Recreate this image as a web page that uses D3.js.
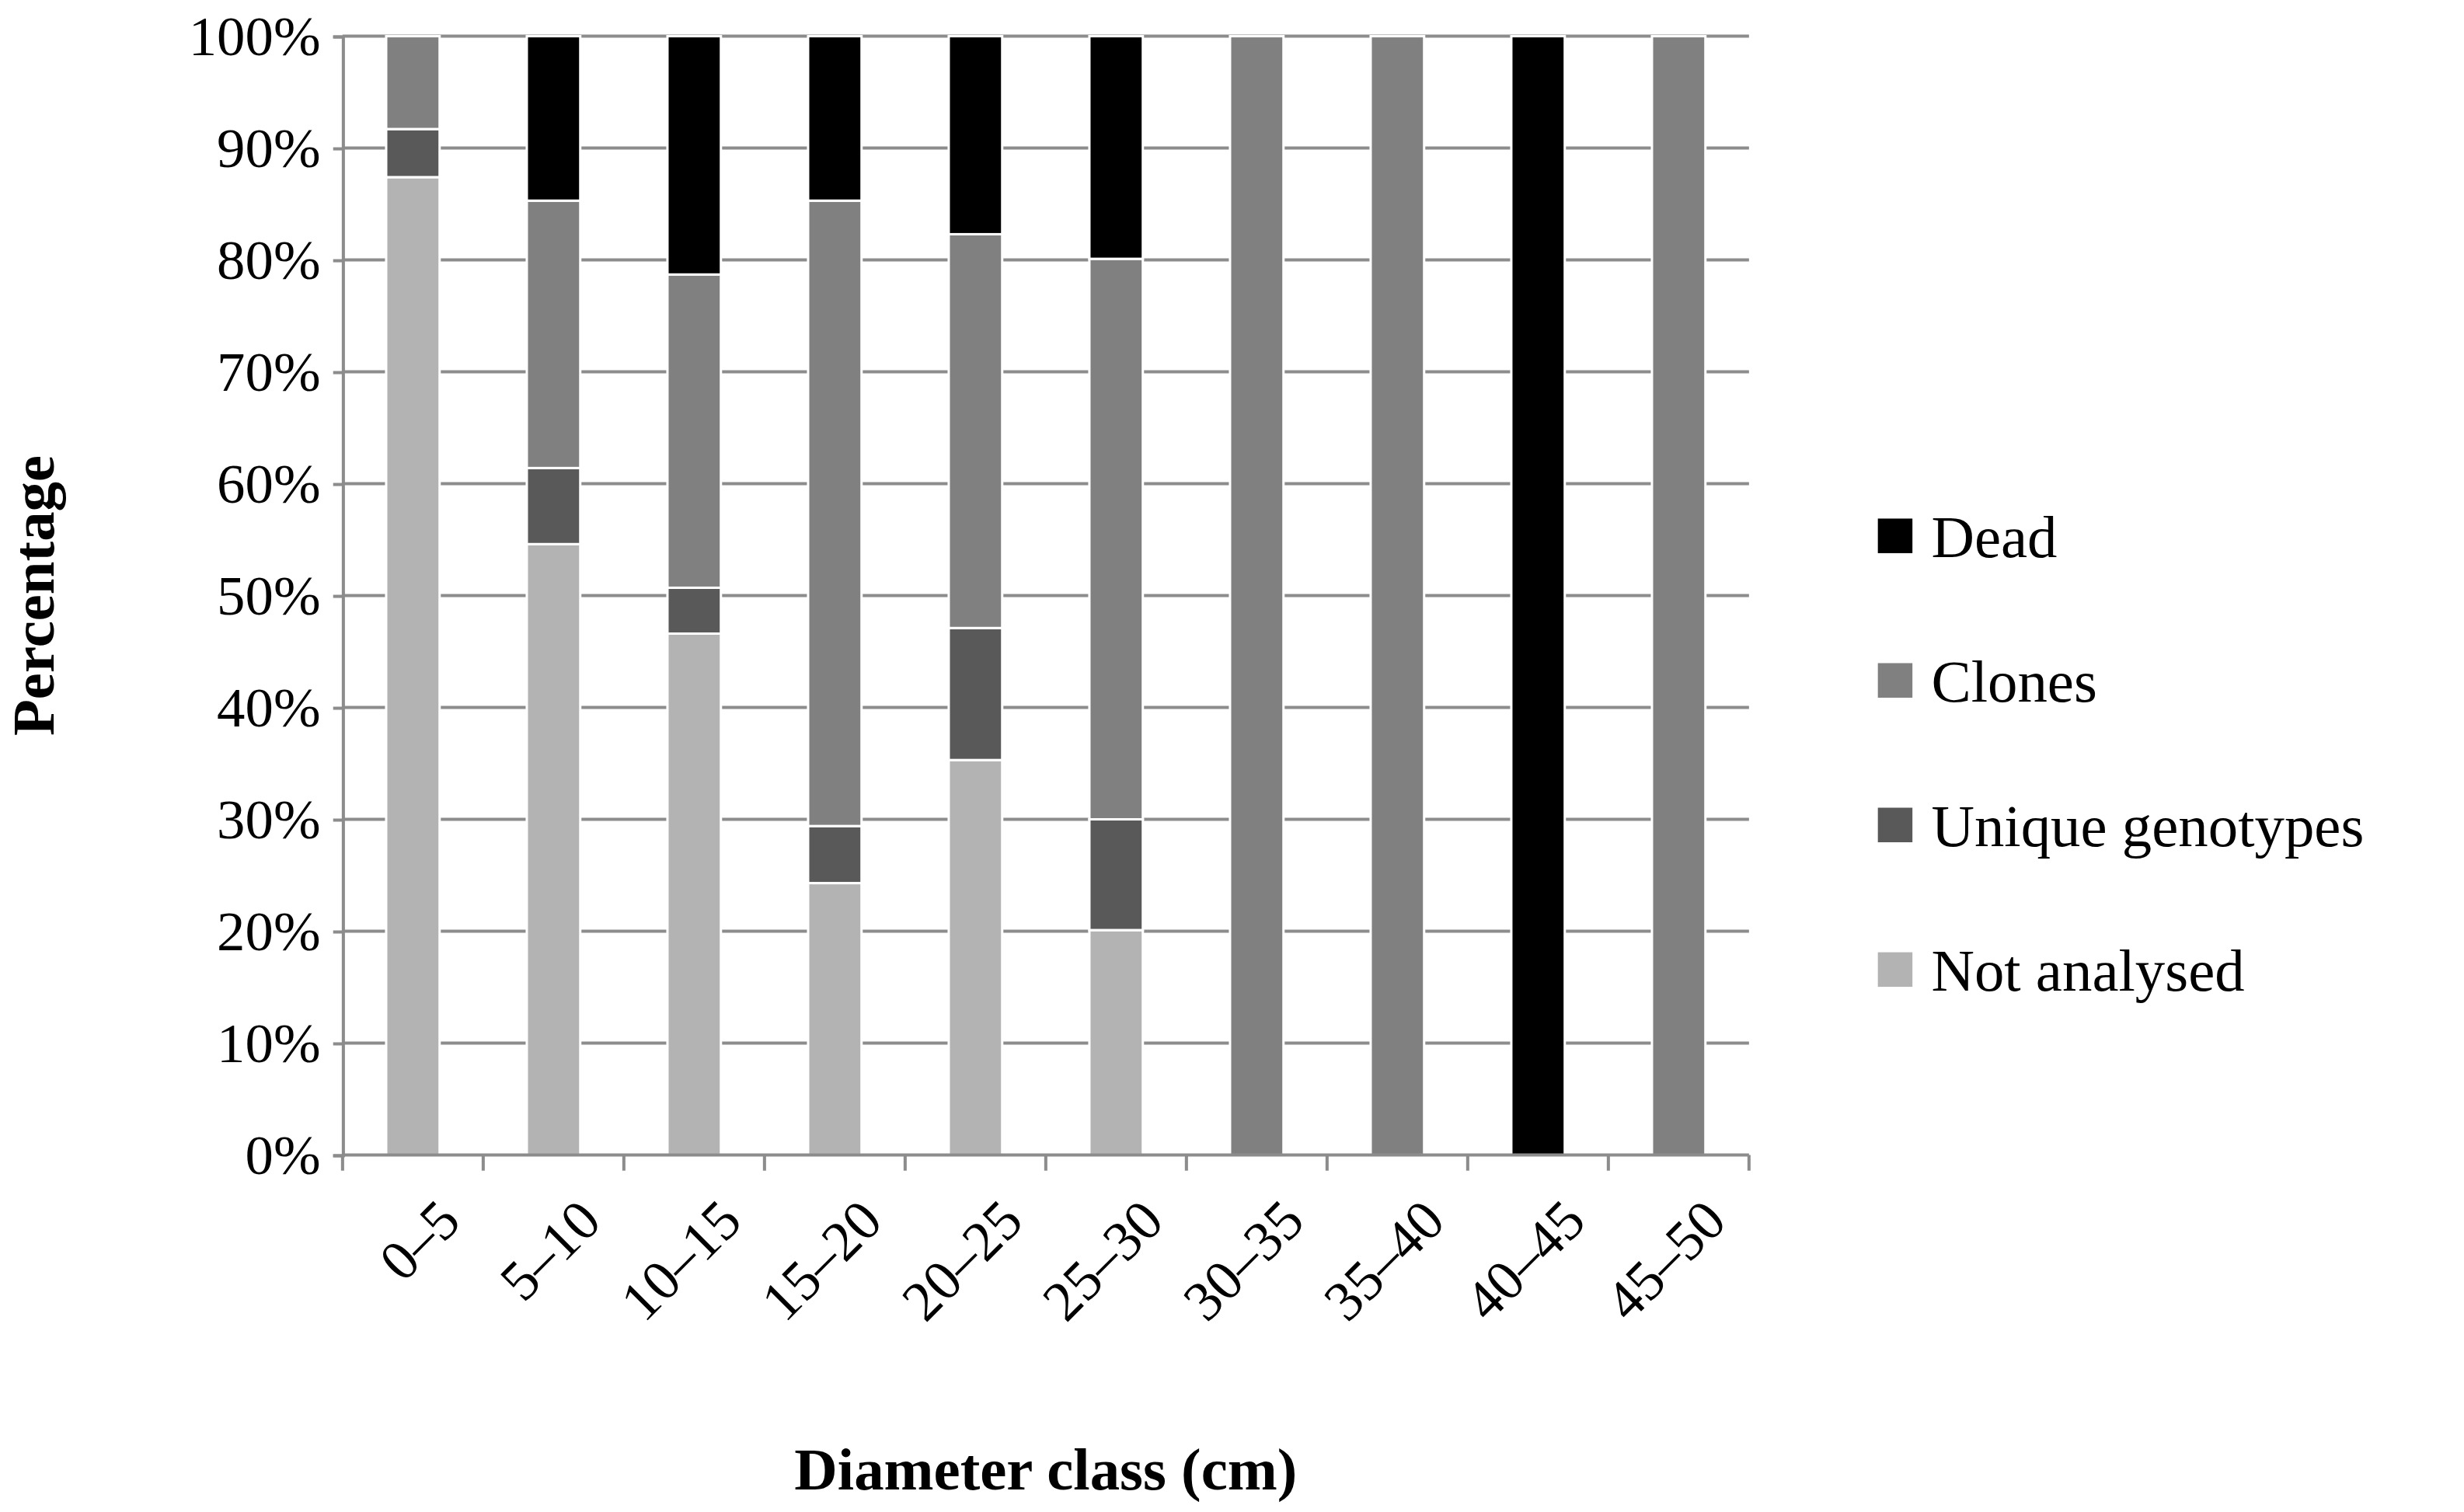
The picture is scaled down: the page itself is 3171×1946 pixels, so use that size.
<!DOCTYPE html>
<html><head><meta charset="utf-8">
<script src="https://cdn.jsdelivr.net/npm/d3@7"></script>
<style>body{margin:0;background:#fff}</style>
</head><body>
<svg id="chart" width="3171" height="1946" viewBox="0 0 1568 962.2"></svg>
<script>
// Stacked percentage bars by diameter class
var classes = ["0–5","5–10","10–15","15–20","20–25","25–30","30–35","35–40","40–45","45–50"];
var notAnalysed = [87.4, 54.6, 46.6, 24.3, 35.3, 20.1, 0, 0, 0, 0];
var uniqueGeno  = [4.3, 6.8, 4.1, 5.1, 11.8, 9.9, 0, 0, 0, 0];
var clones      = [8.3, 23.9, 28.0, 55.9, 35.2, 50.1, 100, 100, 0, 100];
var dead        = [0, 14.7, 21.3, 14.7, 17.7, 19.9, 0, 0, 100, 0];
var yTicks = [0,10,20,30,40,50,60,70,80,90,100];

var seriesNames = ["Not analysed","Unique genotypes","Clones","Dead"];
var seriesColors = ["#b3b3b3","#595959","#808080","#000000"];
var seriesVals = [notAnalysed, uniqueGeno, clones, dead];

var rows = classes.map(function(c, i) {
  var r = {cls: c};
  seriesNames.forEach(function(s, j) { r[s] = seriesVals[j][i]; });
  return r;
});

var svg = d3.select("#chart");
var plotLeft = 218, plotRight = 1113, plotTop = 23, plotBottom = 735;
var font = "'Liberation Serif', 'DejaVu Serif', serif";

var x = d3.scaleBand().domain(classes).range([plotLeft, plotRight]).paddingInner(0.62).paddingOuter(0.31);
var xb = d3.scaleBand().domain(classes).range([plotLeft, plotRight]);
var y = d3.scaleLinear().domain([0, 100]).range([plotBottom, plotTop]);

// gridlines
svg.append("g").selectAll("line").data(yTicks.slice(1)).join("line")
  .attr("x1", plotLeft).attr("x2", plotRight)
  .attr("y1", function(d){ return y(d); }).attr("y2", function(d){ return y(d); })
  .attr("stroke", "#8c8c8c").attr("stroke-width", 2);

var stack = d3.stack().keys(seriesNames)(rows);
svg.append("g").selectAll("g").data(stack).join("g")
  .attr("fill", function(d, i){ return seriesColors[i]; })
  .selectAll("rect").data(function(d){ return d.filter(function(p){ return p[1] - p[0] > 0; }); }).join("rect")
  .attr("x", function(d){ return x(d.data.cls); })
  .attr("width", x.bandwidth())
  .attr("y", function(d){ return y(d[1]); })
  .attr("height", function(d){ return y(d[0]) - y(d[1]); })
  .attr("stroke", "#fff").attr("stroke-width", 1.5);

// y axis
var yAxis = svg.append("g").attr("transform", "translate(" + plotLeft + ",0)")
  .call(d3.axisLeft(y).tickValues(yTicks).tickFormat(function(d){ return d + "%"; }).tickSize(6).tickPadding(8));
yAxis.select(".domain").attr("stroke", "#8c8c8c").attr("stroke-width", 2);
yAxis.selectAll(".tick line").attr("stroke", "#8c8c8c").attr("stroke-width", 2);
yAxis.selectAll("text").attr("font-family", font).attr("font-size", 36).attr("fill", "#000");

// x axis
var xg = svg.append("g");
xg.append("line").attr("x1", plotLeft).attr("x2", plotRight).attr("y1", plotBottom).attr("y2", plotBottom)
  .attr("stroke", "#8c8c8c").attr("stroke-width", 2);
xg.selectAll("line.t").data(classes.concat(["end"])).join("line").attr("class", "t")
  .attr("x1", function(d, i){ return i < classes.length ? xb(d) : plotRight; })
  .attr("x2", function(d, i){ return i < classes.length ? xb(d) : plotRight; })
  .attr("y1", plotBottom).attr("y2", plotBottom + 10)
  .attr("stroke", "#8c8c8c").attr("stroke-width", 2);
xg.selectAll("text").data(classes).join("text")
  .attr("transform", function(d){ return "translate(" + (xb(d) + xb.bandwidth()/2 + 14) + "," + (plotBottom + 26) + ") rotate(-45)"; })
  .attr("text-anchor", "end").attr("dy", "0.7em")
  .attr("font-family", font).attr("font-size", 36).text(function(d){ return d; });

// titles
svg.append("text").attr("x", (plotLeft + plotRight)/2).attr("y", 948).attr("text-anchor", "middle")
  .attr("font-family", font).attr("font-size", 38).attr("font-weight", "bold").text("Diameter class (cm)");
svg.append("text").attr("transform", "translate(34," + ((plotTop + plotBottom)/2) + ") rotate(-90)")
  .attr("text-anchor", "middle").attr("font-family", font).attr("font-size", 38).attr("font-weight", "bold")
  .text("Percentage");

// legend (Dead on top)
var legendOrder = [3, 2, 1, 0];
var lg = svg.append("g").selectAll("g").data(legendOrder).join("g")
  .attr("transform", function(d, i){ return "translate(1195," + (341 + i * 92) + ")"; });
lg.append("rect").attr("x", 0).attr("y", -11).attr("width", 22).attr("height", 22)
  .attr("fill", function(d){ return seriesColors[d]; });
lg.append("text").attr("x", 34).attr("dy", "0.35em").attr("font-family", font).attr("font-size", 38)
  .text(function(d){ return seriesNames[d]; });
</script>
</body></html>
